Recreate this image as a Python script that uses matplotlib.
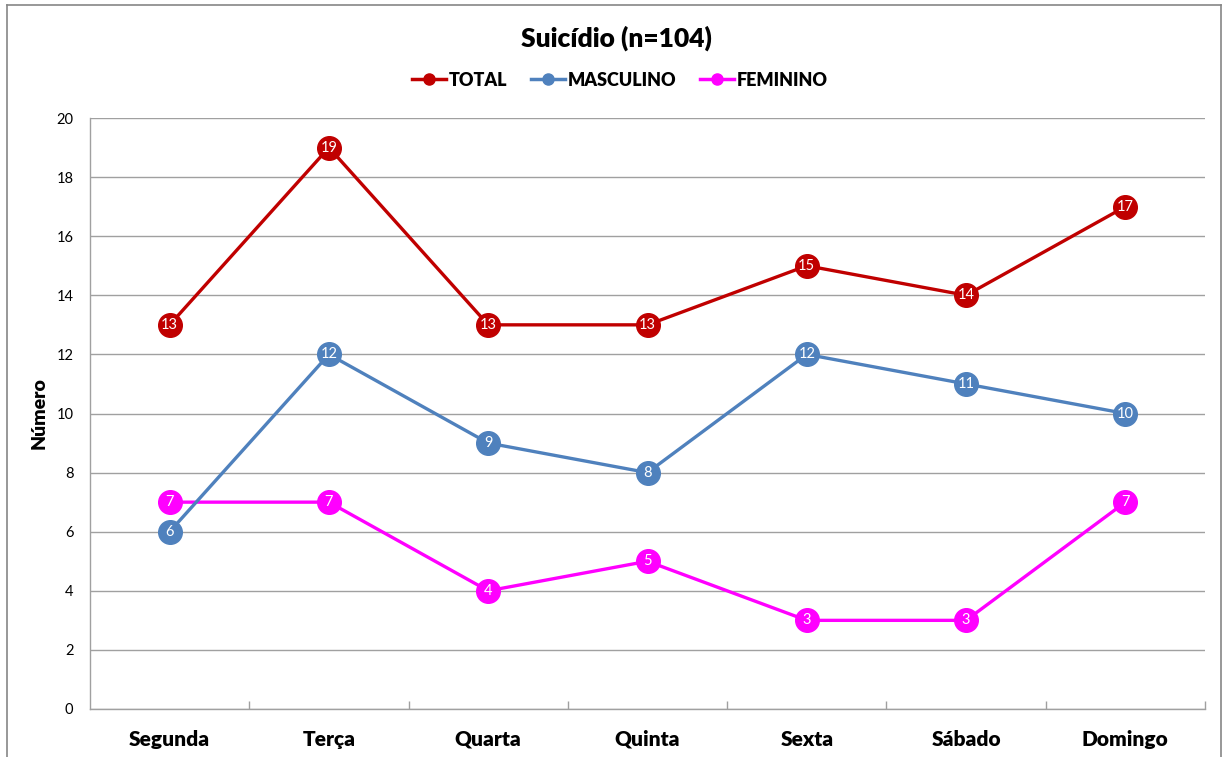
import matplotlib
matplotlib.use("Agg")
import matplotlib.pyplot as plt
from matplotlib.lines import Line2D

days = ["Segunda", "Terça", "Quarta", "Quinta", "Sexta", "Sábado", "Domingo"]
total = [13, 19, 13, 13, 15, 14, 17]
masculino = [6, 12, 9, 8, 12, 11, 10]
feminino = [7, 7, 4, 5, 3, 3, 7]
series_names = ["TOTAL", "MASCULINO", "FEMININO"]
colors = ["#C00000", "#4F81BD", "#FF00FF"]
title = "Suicídio (n=104)"
ylabel = "Número"
yticks = [0, 2, 4, 6, 8, 10, 12, 14, 16, 18, 20]

plt.rcParams["font.family"] = ["Lato", "DejaVu Sans"]

W, H = 1223, 757
fig = plt.figure(figsize=(W / 100, H / 100), dpi=100)
ax = fig.add_axes([90 / W, (H - 709) / H, (1205 - 90) / W, (709 - 118) / H])

x = list(range(len(days)))
for vals, name, col, z in zip([total, masculino, feminino], series_names, colors, [5, 4, 3]):
    ax.plot(x, vals, color=col, lw=2.4, marker="o", ms=17, mec=col, mfc=col,
            zorder=z, solid_joinstyle="round")
    for xi, v in zip(x, vals):
        ax.text(xi, v, str(v), color="white", ha="center", va="center",
                fontsize=10.5, zorder=z + 0.5)

ax.set_xlim(-0.5, len(days) - 0.5)
ax.set_ylim(0, 20)
ax.set_yticks(yticks)
ax.set_yticklabels([str(t) for t in yticks], fontsize=10.5)
ax.grid(axis="y", color="#A0A0A0", lw=1)
ax.set_axisbelow(True)

ax.set_xticks(x)
ax.set_xticklabels(days, fontsize=15, fontweight="heavy")
ax.tick_params(axis="x", which="major", length=0, pad=15)
ax.set_xticks([i + 0.5 for i in range(len(days))], minor=True)
ax.tick_params(axis="x", which="minor", direction="in", length=6, color="#A0A0A0", width=1)
ax.tick_params(axis="y", length=0, pad=12)

for s in ["top", "right"]:
    ax.spines[s].set_visible(False)
for s in ["left", "bottom"]:
    ax.spines[s].set_color("#A0A0A0")
    ax.spines[s].set_linewidth(1)

ax.set_ylabel(ylabel, fontsize=14, fontweight="heavy", labelpad=6)

fig.text(616 / W, 1 - 38 / H, title, ha="center", va="center",
         fontsize=19, fontweight="heavy")

handles = [Line2D([0], [0], color=c, lw=2.5, marker="o", ms=8, mfc=c, mec=c)
           for c in colors]
fig.legend(handles, series_names, loc="center", bbox_to_anchor=(620 / W, 1 - 80 / H),
           ncol=3, frameon=False, handlelength=1.9, handletextpad=0.15,
           columnspacing=1.3, prop={"weight": "heavy", "size": 13})

# Outer chart frame
frame = dict(color="#868686", lw=1.2, transform=fig.transFigure)
fig.add_artist(Line2D([7 / W, 7 / W], [0, 1 - 5 / H], **frame))
fig.add_artist(Line2D([7 / W, 1221 / W], [1 - 5 / H, 1 - 5 / H], **frame))
fig.add_artist(Line2D([1221 / W, 1221 / W], [0, 1 - 5 / H], **frame))

fig.savefig("out.png", dpi=100, facecolor="white")
